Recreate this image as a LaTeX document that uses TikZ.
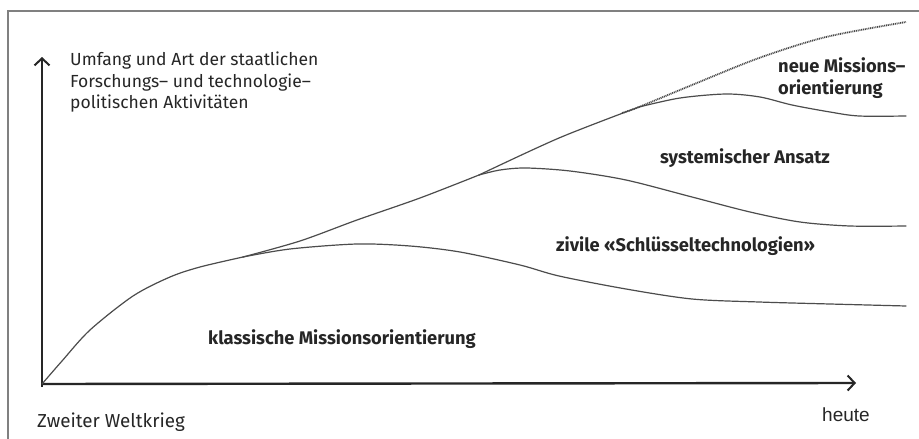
\documentclass[tikz,border=0pt]{standalone}
\usepackage{fontspec}
\setmainfont{Fira Sans}
\newfontfamily\arialfont{Liberation Sans}
\usetikzlibrary{arrows.meta}
\begin{document}
\begin{tikzpicture}[x=1pt,y=-1pt,
  axis/.style={line width=2.4pt, draw=black!85,
    -{Straight Barb[length=7pt,width=15pt,line width=2pt]}},
  curve/.style={line width=1.2pt, draw=black!70, line cap=round, line join=round},
  dotcurve/.style={line width=1.8pt, draw=black!72, dash pattern=on 1pt off 0.8pt},
  lbl/.style={font=\fontsize{17.5}{22}\selectfont, inner sep=0pt, anchor=base west, text=black!85},
  blbl/.style={lbl, font=\fontsize{18.3}{22}\selectfont\bfseries},
]
\useasboundingbox (0,0) rectangle (919,439);
\fill[white] (0,0) rectangle (919,439);
% frame
\draw[black!50, line width=1.4pt] (8,439) -- (8,11) -- (919,11);

% axes
\coordinate (O) at (42,384);
\coordinate (ybot) at (42,387);
\coordinate (ytip) at (42,57);
\coordinate (xtip) at (856,383);
\draw[axis] (ybot) -- (ytip);
\draw[axis] (O) -- (xtip);

% branch points
\coordinate (b1) at (243,257);
\coordinate (b2) at (479,175);
\coordinate (b3) at (639,107);

% common trunk
\draw[curve] plot[smooth] coordinates {(O) (62,361) (90,330) (133,296) (170,277) (200,267) (b1)};
% classical mission orientation
\draw[curve] plot[smooth] coordinates {(b1) (290,249) (357,244) (410,246) (460,252) (520,265) (559,276) (626,289) (692,299) (759,302) (830,304) (906,306)};
% second trunk
\draw[curve] plot[smooth] coordinates {(b1) (300,241) (357,220) (420,198) (b2)};
% civil key technologies
\draw[curve] plot[smooth] coordinates {(b2) (500,170) (526,168) (570,171) (626,180) (692,197) (750,212) (800,222) (850,226) (906,226)};
% third trunk
\draw[curve] plot[smooth] coordinates {(b2) (559,138) (b3)};
% systemic approach
\draw[curve] plot[smooth] coordinates {(b3) (680,98) (726,94) (760,97) (792,105) (830,112) (859,116) (906,116)};
% new mission orientation
\draw[dotcurve] plot[smooth] coordinates {(622,113) (b3) (692,85) (759,58) (826,37) (906,22)};

% labels
\node[lbl] (t1) at (70,65) {Umfang und Art der staatlichen};
\node[lbl] (t2) at (70,87) {Forschungs– und technologie–};
\node[lbl] (t3) at (70,108) {politischen Aktivitäten};
\node[blbl] (n1) at (778,72) {neue Missions–};
\node[blbl] (n2) at (778,94) {orientierung};
\node[blbl] (s) at (660,163) {systemischer Ansatz};
\node[blbl] (z) at (556,251) {zivile «Schlüsseltechnologien»};
\node[blbl] (k) at (208,344) {klassische Missionsorientierung};
\node[lbl, font=\fontsize{18.8}{22}\selectfont] (w) at (37,427) {Zweiter Weltkrieg};
\node[lbl, font=\arialfont\fontsize{19}{22}\selectfont] (h) at (822,421) {heute};
\end{tikzpicture}
\end{document}
